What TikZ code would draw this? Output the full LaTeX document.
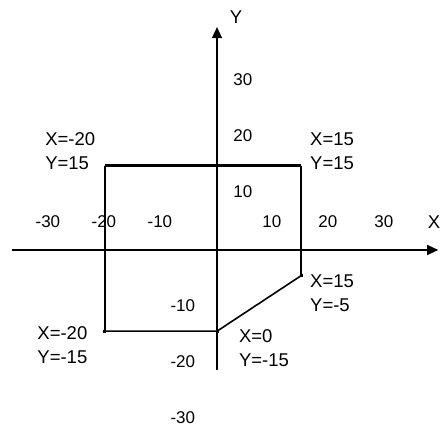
\documentclass[tikz,border=0pt]{standalone}
\usepackage{fontspec}
\setmainfont{Liberation Sans}
\usetikzlibrary{arrows.meta}
\usetikzlibrary{positioning}

\begin{document}
\begin{tikzpicture}[x=5.6pt, y=5.6pt,
    axis/.style={line width=1.5pt, -{Triangle[length=11pt,width=10pt]}},
    edge/.style={line width=1.6pt},
    tick/.style={font=\fontsize{17}{20}\selectfont, inner sep=0pt},
    corner/.style={font=\fontsize{18.5}{24}\selectfont, align=left, anchor=west, inner sep=0pt},
    pin/.style={fill, minimum size=3pt, inner sep=0pt}]
    \useasboundingbox (-38.75,-31.79) rectangle (40,44.64);
    % corners of the outline
    \coordinate (A) at (-20,15);
    \coordinate (B) at (15,15);
    \coordinate (C) at (15,-4.6);
    \coordinate (D) at (0,-14.5);
    \coordinate (E) at (-20,-14.5);
    % axes
    \coordinate (xl) at (-36.6,0);
    \coordinate (xr) at (39.5,0);
    \coordinate (yb) at (0,-21.4);
    \coordinate (yt) at (0,39.8);
    \draw[axis] (xl) -- (xr);
    \draw[axis] (yb) -- (yt);
    \node[tick, font=\fontsize{18.5}{20}\selectfont] (ylab) at (3.4,41.6) {Y};
    \node[tick, font=\fontsize{18.5}{20}\selectfont, anchor=east] (xlab) at (39.9,5) {X};
    % tick labels
    \foreach \t in {-30,-20,-10,10,20,30}
        \node[tick] (tx\t) at (\t-0.2,5) {\t};
    \foreach \t in {10,20,30}
        \node[tick] (ty\t) at (4.6,\t+0.4) {\t};
    \foreach \t in {-10,-20,-30}
        \node[tick] (ty\t) at (-6.1,\t) {\t};
    % outline
    \draw[edge] (B) -- (C) -- (D) -- (E) -- (A);
    \draw[line width=3pt] (A) -- (B);
    \foreach \p in {C,D,E}
        \node[pin] at (\p) {};
    % corner labels
    \node[corner] (la) at (-30.7,17.7) {X=-20\\Y=15};
    \node[corner] (lb) at (16.6,17.7) {X=15\\Y=15};
    \node[corner] (lc) at (16.6,-7.8) {X=15\\Y=-5};
    \node[corner] (ld) at (3.9,-17.5) {X=0\\Y=-15};
    \node[corner] (le) at (-32.1,-17.0) {X=-20\\Y=-15};
\end{tikzpicture}
\end{document}
